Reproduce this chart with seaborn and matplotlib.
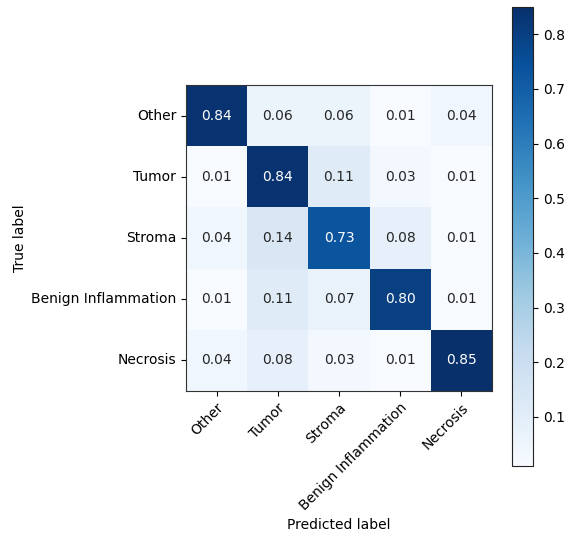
"""Confusion matrix for the tissue classifier, normalised by true label."""

import numpy as np
import pandas as pd
import matplotlib
matplotlib.use("Agg")
import matplotlib.pyplot as plt
import seaborn as sns

# ── Data ─────────────────────────────────────────────────────────────
classes = ["Other", "Tumor", "Stroma", "Benign Inflammation", "Necrosis"]
row_other = [0.84, 0.06, 0.06, 0.01, 0.04]
row_tumor = [0.01, 0.84, 0.11, 0.03, 0.01]
row_stroma = [0.04, 0.14, 0.73, 0.08, 0.01]
row_benign = [0.01, 0.11, 0.07, 0.80, 0.01]
row_necrosis = [0.04, 0.08, 0.03, 0.01, 0.85]

cm = pd.DataFrame(
    np.array([row_other, row_tumor, row_stroma, row_benign, row_necrosis]),
    index=classes, columns=classes,
)

# ── Plot ─────────────────────────────────────────────────────────────
fig = plt.figure(figsize=(5.67, 5.33), dpi=100)
ax = fig.add_axes([0.3280, 0.2664, 0.5397, 0.5741])
cax = fig.add_axes([0.9030, 0.1257, 0.0375, 0.8612])

sns.heatmap(
    cm, ax=ax, cbar_ax=cax, cmap="Blues",
    annot=True, fmt=".2f", annot_kws={"fontsize": 10},
    linewidths=0, square=False,
)

# heatmap strips the frame; put it back like a plain imshow
for spine in ax.spines.values():
    spine.set_visible(True)
    spine.set_linewidth(0.8)
    spine.set_color("#333333")
cbar = ax.collections[0].colorbar
cbar.outline.set_linewidth(0.8)
cbar.outline.set_edgecolor("#222222")
cax.tick_params(labelsize=10, length=3.5)

ax.tick_params(axis="both", length=3.5, labelsize=10)
ax.set_yticklabels(classes, rotation=0)
ax.set_xticklabels(classes, rotation=45, ha="right", rotation_mode="anchor")
ax.set_ylabel("True label", fontsize=10)
ax.set_xlabel("Predicted label", fontsize=10)
ax.xaxis.set_label_coords(0.5, -0.415)
ax.yaxis.set_label_coords(-0.52, 0.5)

fig.savefig("out.png", dpi=100)
